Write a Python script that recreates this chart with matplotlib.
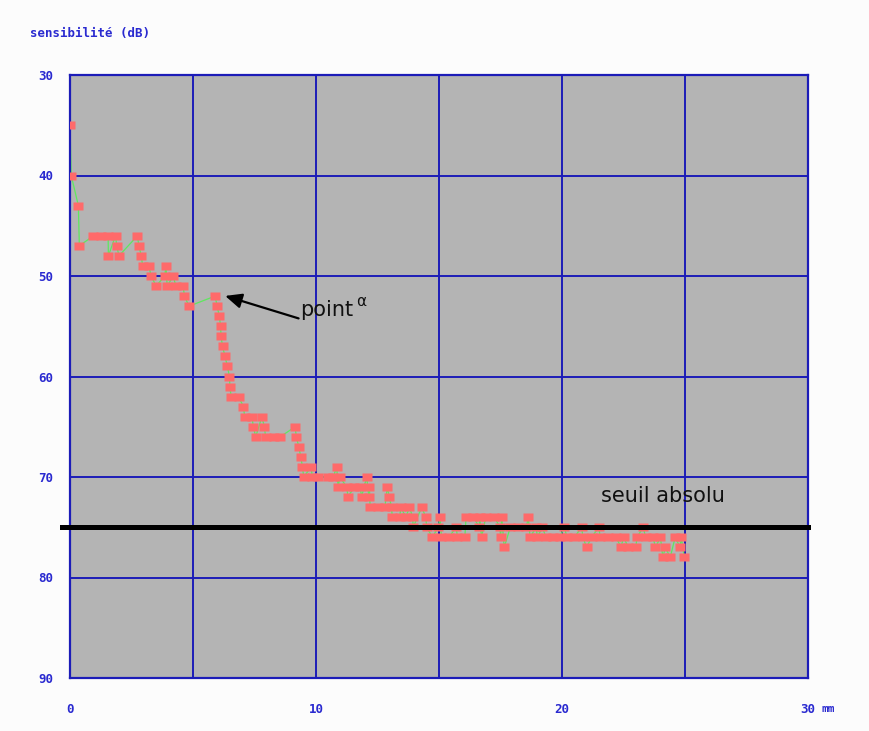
import matplotlib
matplotlib.use("Agg")
import matplotlib.pyplot as plt

# distance (mm) et sensibilite (dB)
distance = [0.0, 0.05, 0.34, 0.38, 0.95, 1.25, 1.55, 1.56, 1.85, 1.9, 1.99,
            2.74, 2.8, 2.9, 2.95, 3.2, 3.3, 3.5, 3.85, 3.9, 3.95, 4.2, 4.3,
            4.6, 4.65, 4.84, 5.9, 5.98, 6.07, 6.12, 6.14, 6.2, 6.3, 6.4,
            6.48, 6.5, 6.55, 6.85, 7.05, 7.1, 7.4, 7.45, 7.55, 7.8, 7.9,
            7.95, 8.3, 8.55, 9.15, 9.2, 9.3, 9.38, 9.45, 9.5, 9.8, 9.85,
            10.1, 10.5, 10.7, 10.84, 10.9, 10.97, 11.25, 11.3, 11.55, 11.8,
            11.85, 12.06, 12.15, 12.17, 12.2, 12.5, 12.8, 12.9, 12.98, 13.07,
            13.1, 13.4, 13.45, 13.65, 13.8, 13.93, 13.95, 14.3, 14.46, 14.5,
            14.73, 14.97, 15.04, 15.1, 15.4, 15.7, 15.75, 16.05, 16.1, 16.4,
            16.64, 16.65, 16.73, 16.9, 17.25, 17.48, 17.5, 17.55, 17.65,
            17.9, 18.2, 18.55, 18.63, 18.7, 18.95, 19.0, 19.2, 19.35, 19.65,
            19.9, 20.1, 20.2, 20.5, 20.8, 20.85, 21.0, 21.2, 21.5, 21.55,
            21.85, 22.2, 22.4, 22.5, 22.7, 23.0, 23.05, 23.3, 23.4, 23.7,
            23.8, 24.0, 24.1, 24.2, 24.4, 24.6, 24.8, 24.85, 24.97]
sensibilite = [35, 40, 43, 47, 46, 46, 46, 48, 46, 47, 48,
               46, 47, 48, 49, 49, 50, 51, 50, 49, 51, 50, 51,
               51, 52, 53, 52, 53, 54, 55, 56, 57, 58, 59,
               60, 61, 62, 62, 63, 64, 64, 65, 66, 64, 65,
               66, 66, 66, 65, 66, 67, 68, 69, 70, 69, 70,
               70, 70, 70, 69, 71, 70, 71, 72, 71, 71,
               72, 70, 72, 71, 73, 73, 73, 71, 72, 73,
               74, 74, 73, 74, 73, 74, 75, 73, 74, 75,
               76, 75, 74, 76, 76, 75, 76, 76, 74, 74,
               75, 74, 76, 74, 74, 75, 76, 74, 77,
               75, 75, 75, 74, 76, 75, 76, 75, 76, 76,
               76, 75, 76, 76, 75, 76, 77, 76, 75, 76,
               76, 76, 77, 76, 77, 77, 76, 75, 76, 76,
               77, 76, 78, 77, 78, 76, 77, 76, 78]

seuil = 75
yticks = [30, 40, 50, 60, 70, 80, 90]
xticks = [0, 10, 20, 30]

bleu = "#2a2ad0"

fig = plt.figure(figsize=(8.69, 7.31), dpi=100, facecolor="#fcfcfc")
ax = fig.add_axes([70 / 869, 1 - 678 / 731, 738 / 869, 603 / 731])
ax.set_facecolor("#b4b4b4")

ax.set_xlim(0, 30)
ax.set_ylim(90, 30)

# grille bleue
for gx in range(5, 30, 5):
    ax.axvline(gx, color="#1c1cb8", lw=1.4, zorder=1)
for gy in range(40, 90, 10):
    ax.axhline(gy, color="#1c1cb8", lw=1.4, zorder=1)
for s in ax.spines.values():
    s.set_color("#1c1cb8")
    s.set_linewidth(1.6)

# courbe (carres un peu plus larges que hauts)
rect = [(-1, -0.85), (1, -0.85), (1, 0.85), (-1, 0.85), (-1, -0.85)]
ax.plot(distance, sensibilite, color="#5ee85e", lw=0.9, zorder=2)
ax.plot(distance, sensibilite, ls="none", marker=rect, ms=7,
        mfc="#ff6a6a", mec="none", zorder=3)

# seuil absolu
ax.plot([-0.33, 30], [seuil, seuil], color="black", lw=3.6, zorder=4,
        clip_on=False)
ax.text(24.1, 71.9, "seuil absolu", fontsize=15, ha="center", va="center",
        color="#111111")

# point alpha
ax.annotate("", xy=(6.2, 51.9), xytext=(9.4, 54.3),
            arrowprops=dict(arrowstyle="-|>,head_length=1.0,head_width=0.45",
                            color="black", lw=1.6), zorder=5)
ax.text(9.35, 53.4, "point", fontsize=15, ha="left", va="center",
        color="#111111")
ax.text(11.65, 52.5, "α", fontsize=11, ha="left", va="center",
        color="#111111")

# axes
ax.set_yticks(yticks)
ax.set_yticklabels([str(v) for v in yticks], color=bleu,
                   fontfamily="DejaVu Sans Mono", fontweight="bold",
                   fontsize=9)
ax.set_xticks(xticks)
ax.set_xticklabels([str(v) for v in xticks], color=bleu,
                   fontfamily="DejaVu Sans Mono", fontweight="bold",
                   fontsize=9)
ax.tick_params(axis="both", length=0)
ax.tick_params(axis="y", pad=12)
ax.tick_params(axis="x", pad=18)
ax.grid(False)

fig.text(822 / 869, 1 - 709 / 731, "mm", color=bleu,
         fontfamily="DejaVu Sans Mono", fontweight="bold", fontsize=8,
         ha="left", va="center")
fig.text(30 / 869, 1 - 33 / 731, "sensibilité (dB)", color=bleu,
         fontfamily="DejaVu Sans Mono", fontweight="bold", fontsize=9,
         ha="left", va="center")

fig.savefig("out.png", dpi=100, facecolor=fig.get_facecolor())
